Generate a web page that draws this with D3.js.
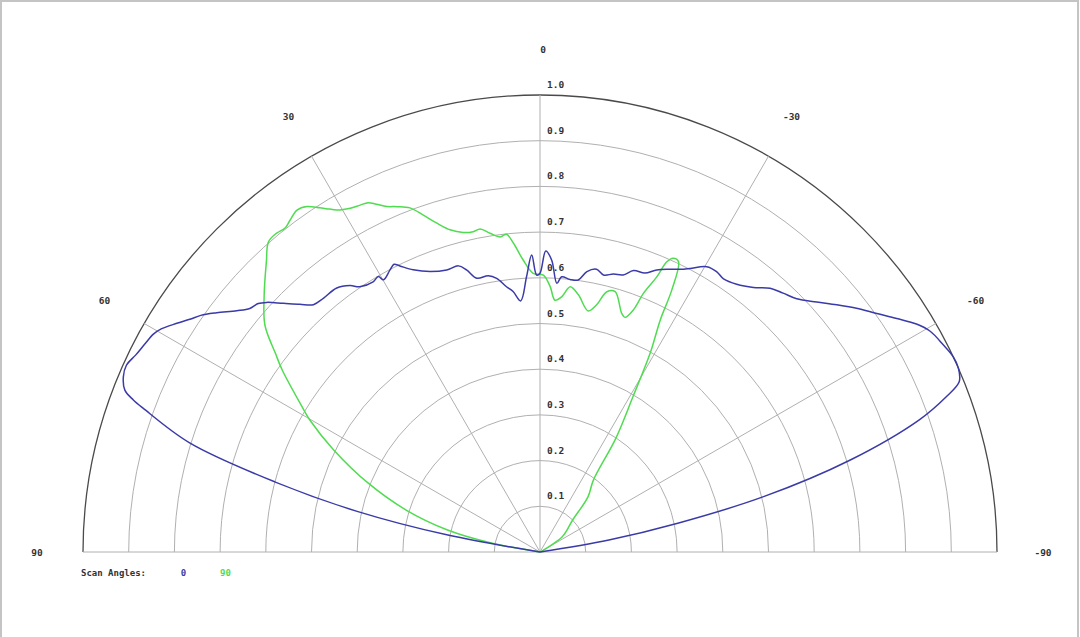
<!DOCTYPE html>
<html>
<head>
<meta charset="utf-8">
<script src="https://cdn.jsdelivr.net/npm/d3@7"></script>
<style>
  html, body { margin: 0; padding: 0; background: #fff; }
  svg { display: block; }
  text { font-family: "DejaVu Sans Mono", "Liberation Mono", monospace; }
</style>
</head>
<body>
<svg id="chart" width="1080" height="637"></svg>
<script>
// ---- data ----
const ringValues = [0.1, 0.2, 0.3, 0.4, 0.5, 0.6, 0.7, 0.8, 0.9, 1.0];
const ringLabels = ["0.1", "0.2", "0.3", "0.4", "0.5", "0.6", "0.7", "0.8", "0.9", "1.0"];
const spokeAngles = [90, 60, 30, 0, -30, -60, -90];
const spokeLabels = ["90", "60", "30", "0", "-30", "-60", "-90"];

const seriesNames = ["0", "90"];
const seriesColors = ["#3a3aa8", "#50dc50"];
const legendTitle = "Scan Angles:";

const blueAngles = [83, 79.6, 77.5, 75.2, 72.7, 70.1, 69.5, 68.7, 67.2, 65.7, 64.0, 62.2, 60.6, 59.5, 57.8, 56.4, 55.1, 53.5, 51.5, 50.0, 48.6, 47.6, 45.9, 44.1, 42.5, 40.5, 37.6, 35.5, 34.2, 31.7, 30.4, 29.9, 28.0, 26.9, 26.1, 24.2, 21.4, 18.3, 15.9, 14.6, 13.0, 10.6, 9.0, 7.2, 5.9, 4.4, 2.8, 1.6, 0.7, 0, -1.1, -2.3, -3.6, -4.5, -6.3, -8.0, -9.5, -11.3, -12.9, -14.8, -16.7, -18.4, -20.6, -22.5, -24.7, -26.9, -27.9, -30.3, -32.2, -33.9, -36.3, -38.9, -41.1, -43.2, -45.4, -47.9, -50.2, -52.4, -54.7, -56.8, -58.8, -60.5, -62.8, -64.7, -66.3, -67.9, -69.1, -70.8, -73.5, -76.1, -78.2, -80.1, -83];
const blueValues = [0, 0.205, 0.408, 0.599, 0.803, 0.923, 0.950, 0.975, 0.989, 0.993, 0.984, 0.977, 0.971, 0.962, 0.939, 0.920, 0.905, 0.880, 0.848, 0.829, 0.822, 0.810, 0.782, 0.755, 0.734, 0.730, 0.729, 0.716, 0.702, 0.695, 0.699, 0.687, 0.699, 0.706, 0.697, 0.677, 0.659, 0.650, 0.651, 0.638, 0.615, 0.615, 0.606, 0.585, 0.573, 0.551, 0.603, 0.650, 0.606, 0.610, 0.659, 0.639, 0.589, 0.604, 0.600, 0.601, 0.622, 0.631, 0.622, 0.629, 0.633, 0.649, 0.652, 0.668, 0.681, 0.694, 0.702, 0.723, 0.725, 0.720, 0.727, 0.744, 0.766, 0.777, 0.789, 0.816, 0.845, 0.874, 0.903, 0.933, 0.963, 0.981, 0.992, 1.000, 1.000, 0.990, 0.951, 0.878, 0.707, 0.504, 0.308, 0.153, 0];

const greenAngles = [83, 79.6, 76.6, 72.6, 68.2, 63.7, 60.2, 58.8, 54.8, 53.1, 50.5, 47.1, 43.3, 41.2, 39.6, 38.2, 37.0, 35.4, 34.0, 32.6, 31.5, 30.3, 28.9, 27.4, 26.2, 25.2, 23.9, 22.5, 20.7, 19.1, 17.4, 15.6, 13.5, 11.8, 10.5, 8.9, 7.2, 6.0, 4.9, 3.3, 1.4, -0.7, -2.2, -3.4, -4.9, -6.5, -8.5, -11.3, -12.9, -14.4, -16.1, -18.9, -19.9, -21.1, -21.8, -23.0, -23.6, -24.4, -25.5, -26.7, -27.4, -29.0, -30.9, -33.7, -36.6, -41.0, -45.6, -55.7, -70];
const greenValues = [0, 0.106, 0.208, 0.307, 0.404, 0.503, 0.580, 0.606, 0.690, 0.724, 0.780, 0.824, 0.873, 0.902, 0.905, 0.902, 0.909, 0.918, 0.912, 0.894, 0.880, 0.867, 0.859, 0.855, 0.852, 0.841, 0.827, 0.818, 0.805, 0.780, 0.754, 0.732, 0.719, 0.716, 0.719, 0.706, 0.695, 0.699, 0.678, 0.640, 0.610, 0.606, 0.581, 0.552, 0.561, 0.584, 0.569, 0.538, 0.555, 0.588, 0.593, 0.552, 0.546, 0.568, 0.610, 0.654, 0.693, 0.706, 0.704, 0.642, 0.572, 0.497, 0.396, 0.299, 0.196, 0.160, 0.100, 0.059, 0];

// ---- layout ----
const W = 1080, H = 637;
const cx = 540, cy = 552, R = 457;

const svg = d3.select("#chart");

// frame
svg.append("rect").attr("x", 1).attr("y", 1).attr("width", W - 3).attr("height", H + 10)
  .attr("fill", "none").attr("stroke", "#c4c4c4").attr("stroke-width", 2);

const g = svg.append("g").attr("transform", `translate(${cx},${cy})`);

const rScale = d3.scaleLinear().domain([0, 1]).range([0, R]);
// degrees: +90 at left, -90 at right, 0 at top -> d3 radial angle (clockwise from top)
const aScale = d3.scaleLinear().domain([90, -90]).range([-Math.PI / 2, Math.PI / 2]);

// rings
ringValues.forEach((v, i) => {
  const p = d3.path();
  p.arc(0, 0, rScale(v), Math.PI, 2 * Math.PI);
  const outer = i === ringValues.length - 1;
  g.append("path").attr("d", p.toString()).attr("fill", "none")
    .attr("stroke", outer ? "#4a4a4a" : "#b0b0b0")
    .attr("stroke-width", outer ? 1.3 : 1);
});

// spokes
spokeAngles.forEach(a => {
  const t = aScale(a);
  g.append("line")
    .attr("x1", 0).attr("y1", 0)
    .attr("x2", rScale(1) * Math.sin(t)).attr("y2", -rScale(1) * Math.cos(t))
    .attr("stroke", "#b0b0b0").attr("stroke-width", 1);
});

// ring labels
ringValues.forEach((v, i) => {
  g.append("text").attr("x", 7).attr("y", -rScale(v) - 7)
    .attr("font-size", 9.5).attr("font-weight", "bold").attr("fill", "#333")
    .text(ringLabels[i]);
});

// angle labels
const labelR = 503;
spokeAngles.forEach((a, i) => {
  const t = aScale(a);
  g.append("text")
    .attr("x", labelR * Math.sin(t) + (a === 0 ? 3 : 0)).attr("y", -labelR * Math.cos(t))
    .attr("text-anchor", "middle").attr("dominant-baseline", "central")
    .attr("font-size", 9.5).attr("font-weight", "bold").attr("fill", "#333")
    .text(spokeLabels[i]);
});

// series
const line = d3.lineRadial()
  .angle(d => aScale(d[0]))
  .radius(d => rScale(d[1]))
  .curve(d3.curveCatmullRom.alpha(0.5));

const series = [
  d3.zip(blueAngles, blueValues),
  d3.zip(greenAngles, greenValues)
];
// draw green first then blue on top
[1, 0].forEach(k => {
  g.append("path").datum(series[k])
    .attr("d", line).attr("fill", "none")
    .attr("stroke", seriesColors[k]).attr("stroke-width", 1.5)
    .attr("stroke-linejoin", "round");
});

// legend
const lg = svg.append("g").attr("font-size", 9).attr("font-weight", "bold");
lg.append("text").attr("x", 81).attr("y", 573).attr("dominant-baseline", "central")
  .attr("fill", "#333").text(legendTitle);
const legendX = [183.5, 225.5];
seriesNames.forEach((n, i) => {
  lg.append("text").attr("x", legendX[i]).attr("y", 573)
    .attr("text-anchor", "middle").attr("dominant-baseline", "central")
    .attr("fill", seriesColors[i]).text(n);
});
</script>
</body>
</html>
